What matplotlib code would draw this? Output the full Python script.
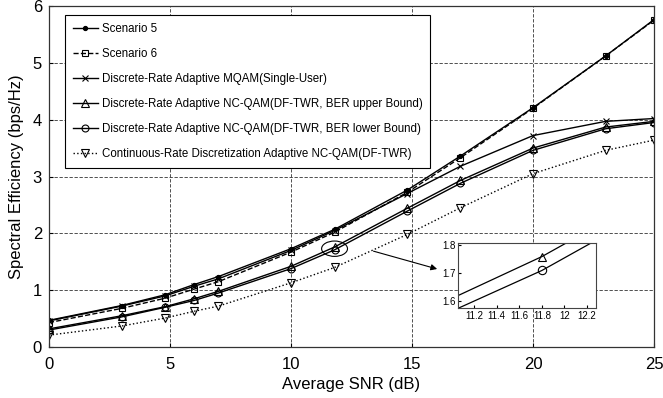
import matplotlib
matplotlib.use("Agg")
import matplotlib.pyplot as plt
from matplotlib.patches import Ellipse

plt.rcParams["font.family"] = ["Liberation Sans", "DejaVu Sans"]

# ---- data ----
snr = [0, 3, 4.8, 6, 7, 10, 11.8, 14.8, 17, 20, 23, 25]

scenario5 = [0.47, 0.73, 0.92, 1.10, 1.24, 1.73, 2.07, 2.76, 3.36, 4.21, 5.12, 5.76]
scenario6 = [0.43, 0.68, 0.86, 1.02, 1.15, 1.67, 2.02, 2.72, 3.33, 4.20, 5.12, 5.75]
mqam_single = [0.46, 0.72, 0.90, 1.07, 1.20, 1.70, 2.05, 2.70, 3.18, 3.72, 3.97, 4.02]
ncqam_upper = [0.32, 0.55, 0.71, 0.85, 0.98, 1.42, 1.76, 2.44, 2.93, 3.50, 3.87, 3.97]
ncqam_lower = [0.30, 0.53, 0.70, 0.82, 0.95, 1.38, 1.71, 2.39, 2.88, 3.46, 3.84, 3.95]
continuous = [0.21, 0.37, 0.51, 0.63, 0.72, 1.13, 1.40, 1.98, 2.45, 3.05, 3.46, 3.64]

labels = [
    "Scenario 5",
    "Scenario 6",
    "Discrete-Rate Adaptive MQAM(Single-User)",
    "Discrete-Rate Adaptive NC-QAM(DF-TWR, BER upper Bound)",
    "Discrete-Rate Adaptive NC-QAM(DF-TWR, BER lower Bound)",
    "Continuous-Rate Discretization Adaptive NC-QAM(DF-TWR)",
]

series = [scenario5, scenario6, mqam_single, ncqam_upper, ncqam_lower, continuous]
styles = [
    dict(linestyle="-", marker=".", markersize=6, markerfacecolor="black"),
    dict(linestyle="--", marker="s", markersize=5, markerfacecolor="none"),
    dict(linestyle="-", marker="x", markersize=5),
    dict(linestyle="-", marker="^", markersize=6, markerfacecolor="none"),
    dict(linestyle="-", marker="o", markersize=5, markerfacecolor="none"),
    dict(linestyle=":", marker="v", markersize=6, markerfacecolor="none"),
]

fig = plt.figure(figsize=(6.63, 3.98), dpi=100)
ax = fig.add_axes([0.0739, 0.128, 0.9125, 0.857])

for ys, lab, st in zip(series, labels, styles):
    ax.plot(snr, ys, color="black", linewidth=1.0, markeredgewidth=0.8,
            label=lab, **st)

ax.set_xlim(0, 25)
ax.set_ylim(0, 6)
ax.set_xticks([0, 5, 10, 15, 20, 25])
ax.set_yticks(range(0, 7))
ax.grid(True, linestyle=(0, (4, 2)), color="#333333", linewidth=0.6)
ax.tick_params(direction="in", labelsize=12, length=3)
ax.tick_params(axis="x", pad=7)
ax.tick_params(axis="y", pad=5)
ax.set_xlabel("Average SNR (dB)", fontsize=12, labelpad=4)
ax.set_ylabel("Spectral Efficiency (bps/Hz)", fontsize=12, labelpad=6)
for sp in ax.spines.values():
    sp.set_color("#333333")
    sp.set_linewidth(0.9)

leg = ax.legend(loc="upper left", bbox_to_anchor=(0.026, 0.973),
                borderaxespad=0, fontsize=8.3, fancybox=False,
                edgecolor="black", framealpha=1, handlelength=2.2,
                labelspacing=1.12, borderpad=0.7, handletextpad=0.3)
leg.get_frame().set_linewidth(0.8)

# zoom marker and arrow
ax.add_patch(Ellipse((11.8, 1.73), 1.07, 0.27, fill=False,
                     edgecolor="black", linewidth=0.8))
ax.annotate("", xy=(16.15, 1.36), xytext=(13.3, 1.70),
            arrowprops=dict(arrowstyle="-|>", color="black", lw=0.8,
                            mutation_scale=9))

# inset
axin = fig.add_axes([0.6913, 0.2254, 0.2077, 0.1648])
axin.plot(snr, ncqam_upper, color="black", linewidth=0.9, marker="^",
          markersize=6, markerfacecolor="none", markeredgewidth=0.8)
axin.plot(snr, ncqam_lower, color="black", linewidth=0.9, marker="o",
          markersize=6, markerfacecolor="none", markeredgewidth=0.8)
axin.set_xlim(11.06, 12.28)
axin.set_ylim(1.574, 1.81)
axin.set_xticks([11.2, 11.4, 11.6, 11.8, 12, 12.2])
axin.set_xticklabels(["11.2", "11.4", "11.6", "11.8", "12", "12.2"])
axin.set_yticks([1.6, 1.7, 1.8])
axin.tick_params(direction="in", labelsize=7, length=2, pad=2)
for sp in axin.spines.values():
    sp.set_color("#444444")
    sp.set_linewidth(0.8)

fig.savefig("out.png", dpi=100)
